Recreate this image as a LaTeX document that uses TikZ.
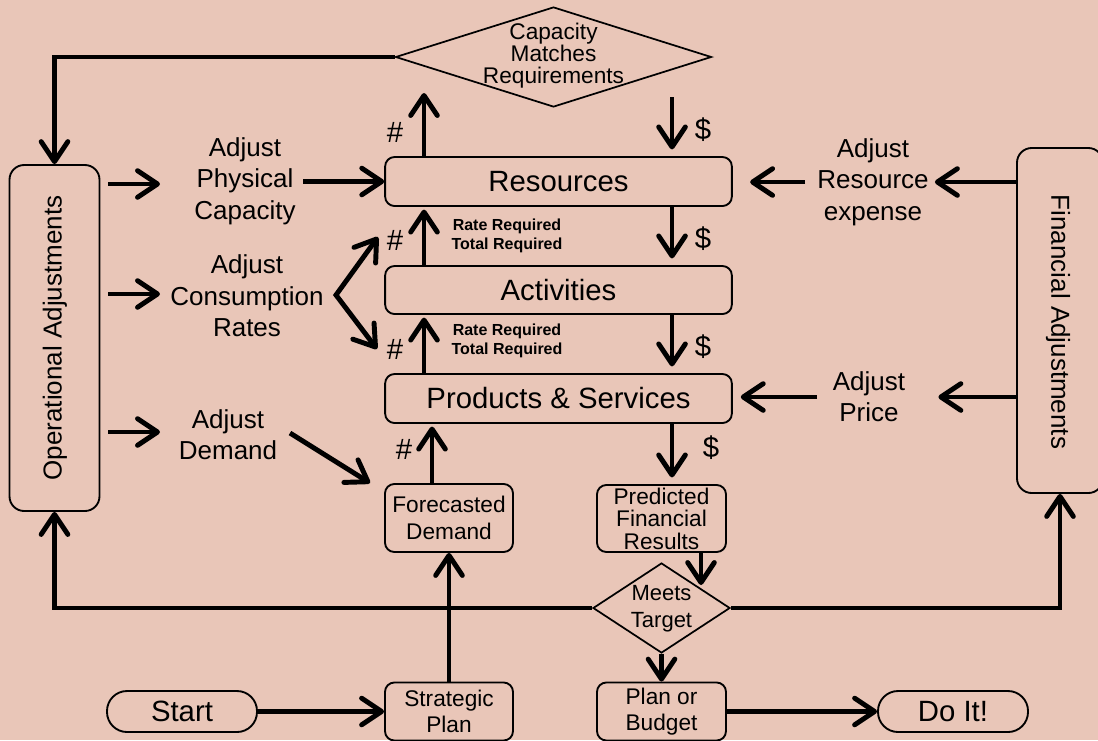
\documentclass[tikz,border=0pt]{standalone}
\usepackage{fontspec}
\setmainfont{Liberation Sans}
\usetikzlibrary{arrows.meta,shapes.geometric}
\definecolor{bg}{RGB}{233,198,184}
\begin{document}
\begin{tikzpicture}[x=0.75pt,y=-0.75pt,
  box/.style={draw, line width=1.4pt, rounded corners=7pt, inner sep=0pt, align=center},
  big/.style={font=\fontsize{22}{24}\selectfont},
  mid/.style={font=\fontsize{17}{20}\selectfont},
  lbl/.style={align=center, inner sep=0pt, font=\fontsize{19.5}{23.5}\selectfont},
  arr/.style={line width=3.7pt, -{Straight Barb[length=15pt,width=20pt,round]}},
  arrboth/.style={line width=3.7pt, line join=miter, {Straight Barb[length=15pt,width=20pt,round]}-{Straight Barb[length=15pt,width=20pt,round]}},
  sym/.style={inner sep=0pt, font=\fontsize{22}{22}\selectfont},
  req/.style={inner sep=0pt, align=center, font=\bfseries\fontsize{12}{14.25}\selectfont},
  dia/.style={diamond, draw, line width=1.3pt, inner sep=0pt},
]
\fill[bg] (0,0) rectangle (1098,740);
\clip (0,0) rectangle (1098,740);

% main boxes
\node[box,big,minimum width=260pt,minimum height=36.75pt] (res) at (558.5,181.5) {Resources};
\node[box,big,minimum width=260pt,minimum height=36pt] (act) at (558.5,290) {Activities};
\node[box,big,minimum width=260pt,minimum height=36.75pt] (ps) at (558.5,398.5) {Products \& Services};

% side boxes
\node[box,rounded corners=11pt,minimum width=67.5pt,minimum height=259.5pt] (op) at (54.5,338) {};
\node[rotate=90, inner sep=0pt, font=\fontsize{19.5}{20}\selectfont] (optxt) at (55,338) {Operational Adjustments};
\node[box,rounded corners=11pt,minimum width=64.5pt,minimum height=258.75pt] (fin) at (1060,320.5) {};
\node[rotate=-90, inner sep=0pt, font=\fontsize{19.5}{20}\selectfont] (fintxt) at (1058,322) {Financial Adjustments};

% lower boxes
\node[box,mid,minimum width=96pt,minimum height=51pt] (fd) at (449,518) {Forecasted\\Demand};
\node[box,minimum width=96.75pt,minimum height=50.25pt,font=\fontsize{17}{16.8}\selectfont] (pfr) at (661.5,518.5) {Predicted\\Financial\\Results};
\node[box,mid,minimum width=96pt,minimum height=43.5pt] (sp) at (449,711.5) {Strategic\\Plan};
\node[box,mid,minimum width=96.75pt,minimum height=43.5pt] (pb) at (661.5,711.5) {Plan or\\Budget};
\node[box,rounded corners=15pt,minimum width=112.5pt,minimum height=30.75pt,font=\fontsize{22}{24}\selectfont] (start) at (182,711.5) {Start};
\node[box,rounded corners=15pt,minimum width=112.5pt,minimum height=30.75pt,font=\fontsize{22}{24}\selectfont] (doit) at (953,711.5) {Do It!};

% diamonds
\node[dia,minimum width=237pt,minimum height=75pt] (cap) at (553.5,57) {};
\node[align=center,inner sep=0pt,font=\fontsize{17}{16.5}\selectfont] (captxt) at (553.5,56) {Capacity\\Matches\\Requirements};
\node[dia,minimum width=102.75pt,minimum height=67.5pt] (meets) at (661.5,608) {};
\node[align=center,inner sep=0pt,font=\fontsize{16.5}{20}\selectfont] (meetstxt) at (661.5,609) {Meets\\Target};

% adjustment labels
\node[lbl] (apc) at (245,181) {Adjust\\Physical\\Capacity};
\node[lbl] (acr) at (247,296) {Adjust\\Consumption\\Rates};
\node[lbl] (ad) at (228,435) {Adjust\\Demand};
\node[lbl] (are) at (873,182) {Adjust\\Resource\\expense};
\node[lbl] (ap) at (869,397) {Adjust\\Price};

% small labels
\node[sym] (h1) at (395,132) {\#};
\node[sym] (h2) at (395,240) {\#};
\node[sym] (h3) at (395,349) {\#};
\node[sym] (h4) at (404,449) {\#};
\node[sym] (d1) at (703,130) {\$};
\node[sym] (d2) at (703,239) {\$};
\node[sym] (d3) at (703,347) {\$};
\node[sym] (d4) at (711,448) {\$};
\node[req] (rq1) at (507,236) {Rate Required\\Total Required};
\node[req] (rq2) at (507,341) {Rate Required\\Total Required};

% helper coordinates
\coordinate (t1) at (160,184);
\coordinate (t2) at (160,294);
\coordinate (t3) at (160,432);
\coordinate (v) at (336,295);
\coordinate (vu) at (378,237);
\coordinate (vd) at (377,349);
\coordinate (dm1) at (290,433);
\coordinate (dm2) at (370,483);
\coordinate (cu) at (424,93);
\coordinate (cd) at (672,97);
\coordinate (mt) at (701,585);
\coordinate (pa) at (817,397);

% connectors
\draw[arr] (cap.west) -| (op.north);
\draw[arr, shorten <=6pt] (op.east |- t1) -- (t1);
\draw[arr, shorten <=6pt] (op.east |- t2) -- (t2);
\draw[arr, shorten <=6pt] (op.east |- t3) -- (t3);
\draw[arr, shorten <=5.6pt] (apc.east |- res.west) -- (res.west);
\draw[arrboth] (vu) -- (v) -- (vd);
\draw[arr] (dm1) -- (dm2);
\draw[arr, shorten >=2pt] ([xshift=-12.75pt]fd.north) -- ([xshift=-12.75pt]fd.north |- ps.south);
\draw[arr, shorten >=2pt] (cu |- ps.north) -- (cu |- act.south);
\draw[arr, shorten >=2pt] (cu |- act.north) -- (cu |- res.south);
\draw[arr] (cu |- res.north) -- (cu);
\draw[arr, shorten >=5pt] (cd) -- (cd |- res.north);
\draw[arr, shorten >=5pt] (cd |- res.south) -- (cd |- act.north);
\draw[arr, shorten >=5pt] (cd |- act.south) -- (cd |- ps.north);
\draw[arr, shorten >=5pt] (cd |- ps.south) -- (cd |- pfr.north);
\draw[arr] (mt |- pfr.south) -- (mt);
\draw[arr] (meets.south) -- (pb.north);
\draw[arr] (meets.west) -| (op.south);
\draw[arr] (meets.east) -| (fin.south);
\draw[arr, shorten >=4.5pt] (fin.west |- are.east) -- (are.east);
\draw[arr, shorten <=9pt, shorten >=13pt] (are.west) -- (are.west -| res.east);
\draw[arr, shorten >=24.75pt] (fin.west |- ap.east) -- (ap.east);
\draw[arr, shorten >=6pt] (pa) -- (pa -| ps.east);
\draw[arr] (start.east) -- (sp.west);
\draw[arr] (sp.north) -- (fd.south);
\draw[arr] (pb.east) -- (doit.west);
\end{tikzpicture}
\end{document}
